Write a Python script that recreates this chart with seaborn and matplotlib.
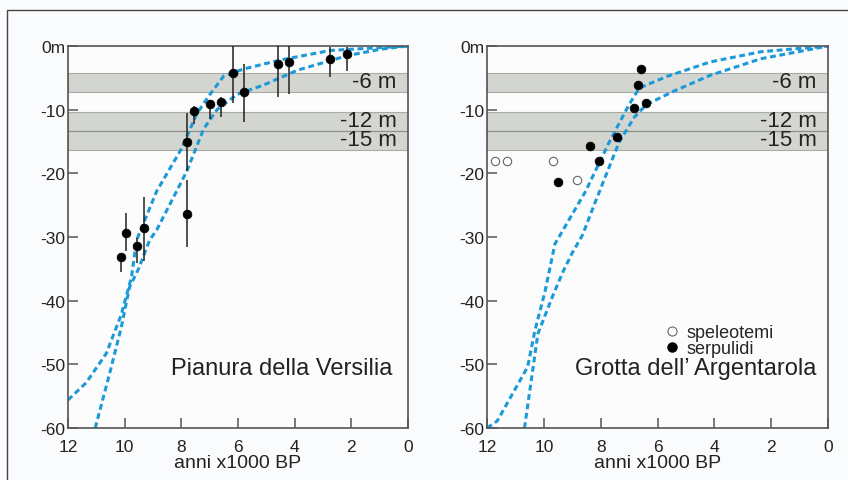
import matplotlib
matplotlib.use("Agg")
import matplotlib.pyplot as plt
import matplotlib.patches as mpatches
from matplotlib.lines import Line2D
import seaborn as sns

sns.set_theme(style="white")
plt.rcParams["font.family"] = ["Liberation Sans", "DejaVu Sans"]

# --- Pianura della Versilia (left panel) ---
vers_age = [6.17, 5.80, 4.58, 4.20, 2.74, 2.17, 6.60, 7.00, 7.57, 7.81, 7.81, 9.94, 9.31, 9.58, 10.13]
vers_depth = [-4.2, -7.3, -2.8, -2.5, -2.0, -1.2, -8.8, -9.1, -10.2, -15.0, -26.4, -29.3, -28.6, -31.4, -33.2]
vers_err_top = [0.0, -2.9, 0.0, 0.0, -0.2, -0.2, -8.0, -8.5, -9.5, -10.6, -21.0, -26.3, -23.7, -30.2, -32.6]
vers_err_bot = [-9.0, -12.0, -8.0, -7.5, -4.8, -3.9, -11.1, -11.5, -12.3, -19.7, -31.6, -32.2, -33.7, -34.1, -35.5]

vers_upper_age = [12.0, 11.36, 10.65, 10.12, 9.76, 9.58, 8.87, 7.99, 7.45, 6.99, 6.5, 5.79, 4.51, 2.74, 0.0]
vers_upper_depth = [-55.6, -52.9, -48.3, -42.2, -36.3, -30.5, -22.8, -16.1, -10.6, -7.6, -4.7, -3.6, -2.2, -0.7, 0.0]
vers_lower_age = [11.04, 10.54, 10.12, 9.83, 9.51, 9.12, 8.87, 7.81, 7.21, 6.74, 6.03, 5.08, 3.9, 2.13, 0.96, 0.0]
vers_lower_depth = [-60.0, -51.6, -44.2, -37.9, -35.0, -30.5, -28.9, -19.7, -13.0, -10.0, -7.6, -6.1, -3.8, -1.5, -0.5, 0.0]

# --- Grotta dell'Argentarola (right panel) ---
serp_age = [6.57, 6.67, 6.42, 6.81, 7.43, 8.36, 8.06, 9.49]
serp_depth = [-3.6, -6.2, -9.0, -9.7, -14.3, -15.7, -18.1, -21.4]
spel_age = [11.73, 11.28, 9.67, 8.83]
spel_depth = [-18.1, -18.1, -18.1, -21.1]

arg_upper_age = [12.0, 11.64, 10.57, 10.32, 9.96, 9.61, 8.54, 7.71, 7.0, 6.64, 5.68, 4.14, 2.36, 0.0]
arg_upper_depth = [-60.0, -58.9, -50.4, -44.8, -38.6, -31.1, -22.9, -15.2, -9.2, -6.6, -4.8, -2.5, -0.9, 0.0]
arg_lower_age = [10.68, 10.21, 9.71, 9.32, 9.0, 8.64, 8.18, 7.36, 6.82, 6.39, 5.43, 4.14, 2.36, 0.93, 0.0]
arg_lower_depth = [-60.0, -45.2, -39.5, -35.4, -32.5, -29.7, -24.4, -15.2, -11.2, -9.2, -7.1, -4.6, -2.0, -0.8, 0.0]

# terrace bands (depth ranges) and their labels
bands = [(-7.2, -4.3), (-16.3, -10.3)]
band_divider = -13.4
band_labels = ["-6 m", "-12 m", "-15 m"]
band_label_depth = [-5.6, -11.7, -14.7]

x_ticks = [12, 10, 8, 6, 4, 2, 0]
y_ticks = [0, -10, -20, -30, -40, -50, -60]
y_ticklabels = ["0m", "-10", "-20", "-30", "-40", "-50", "-60"]

BLUE = "#1c9ad8"
BAND = "#d3d6d0"
SPINE = "#555555"
TXT = "#222222"
DASH = (0, (1.9, 1.2))

fig = plt.figure(figsize=(8.48, 4.81), dpi=100)
fig.patch.set_facecolor("#fafbfd")

ax1 = fig.add_axes([68 / 848, 52 / 481, 340 / 848, 382 / 481])
ax2 = fig.add_axes([487 / 848, 52 / 481, 341 / 848, 382 / 481])


def setup_axis(ax):
    ax.set_facecolor("#fcfcfd")
    for lo, hi in bands:
        ax.axhspan(lo, hi, facecolor=BAND, edgecolor="#a9aca6", linewidth=0.8, zorder=0)
    ax.axhline(band_divider, color="#8e918b", linewidth=0.9, zorder=0.5)
    for lab, d in zip(band_labels, band_label_depth):
        ax.text(0.4, d, lab, fontsize=16, ha="right", va="center", color=TXT)
    ax.set_xlim(12, 0)
    ax.set_ylim(-60, 0)
    ax.set_xticks(x_ticks)
    ax.set_yticks(y_ticks)
    ax.set_yticklabels(y_ticklabels)
    ax.tick_params(axis="both", direction="in", length=7, width=1.1, color=SPINE,
                   labelsize=12.5, labelcolor=TXT, left=True, bottom=True)
    ax.tick_params(axis="x", pad=8)
    ax.tick_params(axis="y", pad=2)
    for sp in ax.spines.values():
        sp.set_color(SPINE)
        sp.set_linewidth(1.2)
    ax.set_xlabel("anni x1000 BP", fontsize=14, color=TXT, labelpad=0)
    ax.set_ylabel("")
    ax.grid(False)


setup_axis(ax1)
setup_axis(ax2)

# left panel
ax1.vlines(vers_age, vers_err_bot, vers_err_top, color=TXT, linewidth=1.1, zorder=3)
for ages, depths in [(vers_upper_age, vers_upper_depth), (vers_lower_age, vers_lower_depth)]:
    sns.lineplot(x=ages, y=depths, ax=ax1, sort=False, estimator=None, color=BLUE,
                 linewidth=2.2, linestyle=DASH, zorder=2)
sns.scatterplot(x=vers_age, y=vers_depth, ax=ax1, color="black", s=40, edgecolor="black",
                linewidth=0.5, zorder=4)
ax1.text(0.55, -50.5, "Pianura della Versilia", fontsize=17, ha="right", va="center", color=TXT)

# right panel
for ages, depths in [(arg_upper_age, arg_upper_depth), (arg_lower_age, arg_lower_depth)]:
    sns.lineplot(x=ages, y=depths, ax=ax2, sort=False, estimator=None, color=BLUE,
                 linewidth=2.2, linestyle=DASH, zorder=2)
sns.scatterplot(x=spel_age, y=spel_depth, ax=ax2, color="white", s=36, edgecolor="#666666",
                linewidth=0.8, zorder=4)
sns.scatterplot(x=serp_age, y=serp_depth, ax=ax2, color="black", s=40, edgecolor="black",
                linewidth=0.5, zorder=4)
ax2.text(0.4, -50.5, "Grotta dell\u2019 Argentarola", fontsize=17, ha="right", va="center", color=TXT)

handles = [
    Line2D([], [], marker="o", linestyle="none", markersize=6.5, markerfacecolor="white",
           markeredgecolor="#666666", markeredgewidth=0.8),
    Line2D([], [], marker="o", linestyle="none", markersize=6.5, markerfacecolor="black",
           markeredgecolor="black"),
]
ax2.legend(handles, ["speleotemi", "serpulidi"], loc="upper left", bbox_to_anchor=(0.522, 0.272),
           frameon=False, fontsize=13, handlelength=0.8, handletextpad=0.4, labelspacing=-0.05,
           borderpad=0, borderaxespad=0)

# outer frame of the figure
fig.add_artist(mpatches.Rectangle((7 / 848, -0.1), 1.2, 1.1 - 11 / 481, transform=fig.transFigure,
                                  fill=False, edgecolor="#444444", linewidth=1.0, clip_on=False))

fig.savefig("out.png", dpi=100, facecolor=fig.get_facecolor())
